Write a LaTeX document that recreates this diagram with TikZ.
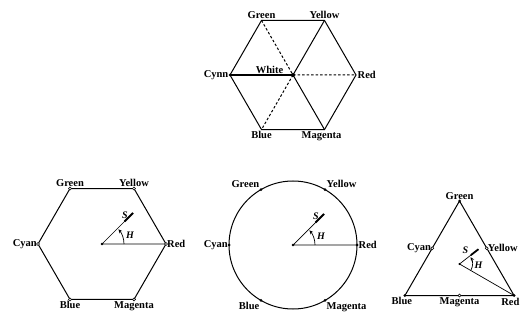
\documentclass[tikz,border=0pt]{standalone}
\usepackage{fontspec}
\setmainfont{Liberation Serif}
\usetikzlibrary{arrows.meta,calc}

\tikzset{
  lbl/.style={font=\bfseries\fontsize{10.5}{12}\selectfont, inner sep=1.5pt},
  ang/.style={font=\bfseries\itshape\fontsize{10}{12}\selectfont, inner sep=0pt},
  rim/.style={line width=1pt},
  vdot/.style={circle, draw, fill=white, line width=0.6pt, inner sep=0pt, minimum size=3pt},
  svec/.style={line width=1.8pt},
  harc/.style={line width=0.7pt, -{Stealth[length=4pt,width=3.5pt]}},
}

\begin{document}
\begin{tikzpicture}[x=1pt,y=1pt]
  \useasboundingbox (0,0) rectangle (521,321);

  % Top hexagon with the white point in the middle
  \coordinate (W) at (293,246);
  \foreach \n/\a in {R/0,Y/60,G/120,C/180,B/240,M/300}
    \coordinate (h\n) at ($(W)+(\a:63pt)$);
  \draw[rim] (hR) -- (hY) -- (hG) -- (hC) -- (hB) -- (hM) -- cycle;
  \draw[line width=1.5pt] (hC) -- (W);
  \draw[rim] (hY) -- (W) -- (hM);
  \draw[rim, dash pattern=on 2.5pt off 2pt] (hG) -- (W) -- (hR);
  \draw[rim, dash pattern=on 2.5pt off 2pt] (W) -- (hB);
  \fill (W) circle (2pt);
  \fill (hC) circle (1.5pt);
  \node[lbl, above] (hGreen) at (hG) {Green};
  \node[lbl, above] (hYellow) at (hY) {Yellow};
  \node[lbl, left] (hCynn) at (hC) {Cynn};
  \node[lbl, right] (hRed) at (hR) {Red};
  \node[lbl, below] (hBlue) at (hB) {Blue};
  \node[lbl, below, xshift=-3pt] (hMagenta) at (hM) {Magenta};
  \node[lbl, anchor=south east] (hWhite) at ($(W)+(-8,0)$) {White};

  % Hexagon model
  \coordinate (P) at (102,77);
  \foreach \n/\a in {R/0,Y/60,G/120,C/180,B/240,M/300}
    \coordinate (p\n) at ($(P)+(\a:64pt)$);
  \draw[rim] (pR) -- (pY) -- (pG) -- (pC) -- (pB) -- (pM) -- cycle;
  \coordinate (pS) at ($(P)+(45:44pt)$);
  \draw[line width=0.7pt] (pR) -- (P) -- (pS);
  \draw[svec] ($(P)!0.72!(pS)$) -- (pS);
  \draw[harc] ($(P)+(0:22pt)$) arc[start angle=0, end angle=42, radius=22pt];
  \fill (P) circle (1.3pt);
  \foreach \n in {R,Y,G,C,B,M}
    \node[vdot] at (p\n) {};
  \node[ang] (pSlbl) at ($(P)+(23,29)$) {S};
  \node[ang] (pHlbl) at ($(P)+(28,9)$) {H};
  \node[lbl, above] (pGreen) at (pG) {Green};
  \node[lbl, above] (pYellow) at (pY) {Yellow};
  \node[lbl, left, inner sep=1pt] (pCyan) at (pC) {Cyan};
  \node[lbl, right, inner sep=1pt] (pRed) at (pR) {Red};
  \node[lbl, below] (pBlue) at (pB) {Blue};
  \node[lbl, below] (pMagenta) at (pM) {Magenta};

  % Circle model
  \coordinate (O) at (293,76);
  \foreach \n/\a in {R/0,Y/60,G/120,C/180,B/240,M/300}
    \coordinate (c\n) at ($(O)+(\a:64pt)$);
  \draw[rim] (O) circle (64pt);
  \coordinate (cS) at ($(O)+(45:44pt)$);
  \draw[line width=0.7pt] (cR) -- (O) -- (cS);
  \draw[svec] ($(O)!0.72!(cS)$) -- (cS);
  \draw[harc] ($(O)+(0:22pt)$) arc[start angle=0, end angle=42, radius=22pt];
  \fill (O) circle (1.3pt);
  \foreach \n in {R,Y,G,C,B,M}
    \fill (c\n) circle (1.5pt);
  \node[ang] (cSlbl) at ($(O)+(23,29)$) {S};
  \node[ang] (cHlbl) at ($(O)+(28,9)$) {H};
  \node[lbl, above left] (cGreen) at (cG) {Green};
  \node[lbl, above right] (cYellow) at (cY) {Yellow};
  \node[lbl, left, inner sep=1pt] (cCyan) at (cC) {Cyan};
  \node[lbl, right] (cRed) at (cR) {Red};
  \node[lbl, below left] (cBlue) at (cB) {Blue};
  \node[lbl, below right] (cMagenta) at (cM) {Magenta};

  % Triangle model
  \coordinate (T) at (459.5,57);
  \coordinate (tG) at ($(T)+(90:63pt)$);
  \coordinate (tB) at ($(T)+(210:63pt)$);
  \coordinate (tR) at ($(T)+(330:63pt)$);
  \coordinate (tC) at ($(tG)!0.5!(tB)$);
  \coordinate (tY) at ($(tG)!0.5!(tR)$);
  \coordinate (tM) at ($(tB)!0.5!(tR)$);
  \draw[rim] (tG) -- (tB) -- (tR) -- cycle;
  \coordinate (tS) at ($(T)+(38:24pt)$);
  \draw[line width=0.7pt] (tR) -- (T) -- (tS);
  \draw[svec] ($(T)!0.6!(tS)$) -- (tS);
  \draw[harc] ($(T)+(-28:13pt)$) arc[start angle=-28, end angle=32, radius=13pt];
  \fill (T) circle (1.2pt);
  \foreach \n in {G,B,R}
    \fill (t\n) circle (1.5pt);
  \foreach \n in {C,Y,M}
    \node[vdot] at (t\n) {};
  \node[ang] (tSlbl) at ($(T)+(6,14)$) {S};
  \node[ang] (tHlbl) at ($(T)+(19,-1)$) {H};
  \node[lbl, above] (tGreen) at (tG) {Green};
  \node[lbl, left, inner sep=1pt] (tCyan) at (tC) {Cyan};
  \node[lbl, right, inner sep=1pt] (tYellow) at (tY) {Yellow};
  \node[lbl, below, xshift=-3pt] (tBlue) at (tB) {Blue};
  \node[lbl, below] (tMagenta) at (tM) {Magenta};
  \node[lbl, anchor=north east] (tRed) at ($(tR)+(7,-1.5)$) {Red};
\end{tikzpicture}
\end{document}
